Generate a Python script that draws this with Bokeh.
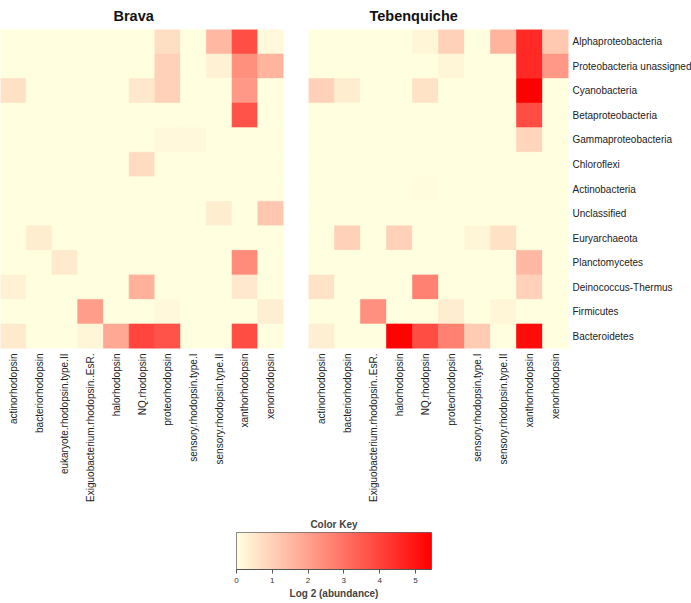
import math
import numpy as np
from bokeh.plotting import figure
from bokeh.layouts import column, row
from bokeh.models import ColumnDataSource, LinearColorMapper, FixedTicker, Range1d
from bokeh.embed import file_html
from bokeh.resources import INLINE

taxa = ["Alphaproteobacteria", "Proteobacteria unassigned", "Cyanobacteria",
        "Betaproteobacteria", "Gammaproteobacteria", "Chloroflexi", "Actinobacteria",
        "Unclassified", "Euryarchaeota", "Planctomycetes", "Deinococcus-Thermus",
        "Firmicutes", "Bacteroidetes"]

brava_cols = ["actinorhodopsin", "bacteriorhodopsin", "eukaryote.rhodopsin.type.II",
              "Exiguobacterium.rhodopsin..EsR.", "halorhodopsin", "NQ.rhodopsin",
              "proteorhodopsin", "sensory.rhodopsin.type.I", "sensory.rhodopsin.type.II",
              "xanthorhodopsin", "xenorhodopsin"]

teben_cols = ["actinorhodopsin", "bacteriorhodopsin", "Exiguobacterium.rhodopsin..EsR.",
              "halorhodopsin", "NQ.rhodopsin", "proteorhodopsin", "sensory.rhodopsin.type.I",
              "sensory.rhodopsin.type.II", "xanthorhodopsin", "xenorhodopsin"]

# log2 abundance, one list per taxon (rows top to bottom)
brava_values = [
    [0,    0,   0,    0,   0,    0,    0.7,  0,    1.5, 3.75, 0.15],
    [0,    0,   0,    0,   0,    0,    1.0,  0,    0.3, 2.37, 1.6],
    [0.65, 0,   0,    0,   0,    0.5,  1.0,  0,    0,   2.2,  0],
    [0,    0,   0,    0,   0,    0,    0,    0,    0,   3.7,  0],
    [0,    0,   0,    0,   0,    0,    0.15, 0.15, 0,   0,    0],
    [0,    0,   0,    0,   0,    0.75, 0,    0,    0,   0,    0],
    [0,    0,   0,    0,   0,    0,    0,    0,    0,   0,    0],
    [0,    0,   0,    0,   0,    0,    0,    0,    0.4, 0,    1.2],
    [0,    0.4, 0,    0,   0,    0,    0,    0,    0,   0,    0],
    [0,    0,   0.45, 0,   0,    0,    0,    0,    0,   2.45, 0],
    [0.3,  0,   0,    0,   0,    1.67, 0,    0,    0,   0.5,  0],
    [0,    0,   0,    2.1, 0,    0,    0.15, 0,    0,   0,    0.35],
    [0.45, 0,   0,    0.2, 1.85, 3.98, 3.7,  0,    0,   3.8,  0],
]

teben_values = [
    [0,    0,   0,   0,   0.2, 1.0, 0,   1.6,  4.55, 1.15],
    [0,    0,   0,   0,   0,   0.2, 0,   0,    4.55, 2.2],
    [1.0,  0.4, 0,   0,   0.6, 0,   0,   0,    5.45, 0],
    [0,    0,   0,   0,   0,   0,   0,   0,    3.8,  0],
    [0,    0,   0,   0,   0,   0,   0,   0,    0.9,  0],
    [0,    0,   0,   0,   0,   0,   0,   0,    0,    0],
    [0,    0,   0,   0,   0.1, 0,   0,   0,    0,    0],
    [0,    0,   0,   0,   0,   0,   0,   0,    0,    0],
    [0,    1.0, 0,   1.0, 0,   0,   0.2, 0.65, 0,    0],
    [0,    0,   0,   0,   0,   0,   0,   0,    1.5,  0],
    [0.6,  0,   0,   0,   2.7, 0,   0,   0,    1.0,  0],
    [0,    0,   2.4, 0,   0,   0.4, 0,   0.2,  0,    0],
    [0.35, 0,   0,   5.4, 3.8, 2.7, 1.1, 0,    5.2,  0],
]

key_ticks = [0, 1, 2, 3, 4, 5]
key_max = 5.45

# palette lightyellow -> red
lo = np.array([255, 255, 224])
hi = np.array([255, 0, 0])
palette = []
for i in range(256):
    c = lo + (hi - lo) * i / 255.0
    palette.append("#%02x%02x%02x" % tuple(int(round(v)) for v in c))
mapper = LinearColorMapper(palette=palette, low=0, high=key_max)

FONT = "Liberation Sans"

def heat(title, cols, values, fw, right_axis, title_offset, mbr):
    xs, ys, vs = [], [], []
    for r, name in enumerate(taxa):
        for c, col in enumerate(cols):
            xs.append(col); ys.append(name); vs.append(values[r][c])
    src = ColumnDataSource(dict(x=xs, y=ys, v=vs))
    p = figure(x_range=cols, y_range=list(reversed(taxa)), frame_width=fw, frame_height=319,
               output_backend="svg", toolbar_location=None, title=title,
               y_axis_location="right" if right_axis else None,
               min_border_left=0, min_border_right=mbr, min_border_top=0, min_border_bottom=0)
    p.rect(x="x", y="y", width=1, height=1, source=src,
           fill_color={"field": "v", "transform": mapper},
           line_color={"field": "v", "transform": mapper}, line_width=0.6)
    p.grid.visible = False
    p.outline_line_color = None
    p.title.align = "left"
    p.title.offset = title_offset
    p.title.text_font = FONT
    p.title.text_font_size = "14.5px"
    p.title.text_font_style = "bold"
    p.title.text_color = "#111111"
    p.title.standoff = 11
    for ax in p.axis:
        ax.axis_line_color = None
        ax.major_tick_line_color = None
        ax.minor_tick_line_color = None
        ax.major_tick_out = 0
        ax.major_tick_in = 0
        ax.major_label_text_font = FONT
        ax.major_label_text_font_size = "10px"
        ax.major_label_text_color = "#222222"
        ax.major_label_standoff = 5
    if right_axis:
        p.yaxis.major_label_standoff = 4
    p.xaxis.major_label_orientation = math.pi / 2
    return p

p1 = heat("Brava", brava_cols, brava_values, 283, False, 113, 25)
p2 = heat("Tebenquiche", teben_cols, teben_values, 260, True, 61, 0)

grad = np.linspace(0, key_max, 256).reshape(1, 256)
pk = figure(x_range=Range1d(0, key_max), y_range=Range1d(0, 1), frame_width=195, frame_height=37,
            output_backend="svg", toolbar_location=None, title="Color Key",
            y_axis_location=None, min_border_left=236, min_border_right=259,
            min_border_top=0, min_border_bottom=0)
pk.image(image=[grad], x=0, y=0, dw=key_max, dh=1, color_mapper=mapper)
pk.grid.visible = False
pk.outline_line_color = "#666666"
pk.title.align = "center"
pk.title.text_font = FONT
pk.title.text_font_size = "10px"
pk.title.text_font_style = "bold"
pk.title.standoff = 6
ax = pk.xaxis[0]
ax.ticker = FixedTicker(ticks=key_ticks)
ax.axis_label = "Log 2 (abundance)"
ax.axis_label_text_font = FONT
ax.axis_label_text_font_size = "10px"
ax.axis_label_text_font_style = "bold"
ax.axis_label_standoff = 2
ax.major_label_text_font = FONT
ax.major_label_text_font_size = "8px"
ax.major_label_text_color = "#333333"
ax.major_label_standoff = 4
ax.axis_line_color = "#555555"
ax.major_tick_line_color = "#555555"
ax.major_tick_in = 0
ax.major_tick_out = 4
ax.minor_tick_line_color = None

layout = column(row(p1, p2, spacing=0), pk, spacing=0)
layout.children[1].margin = (9, 0, 0, 0)
open("out.html", "w").write(file_html(layout, INLINE))
